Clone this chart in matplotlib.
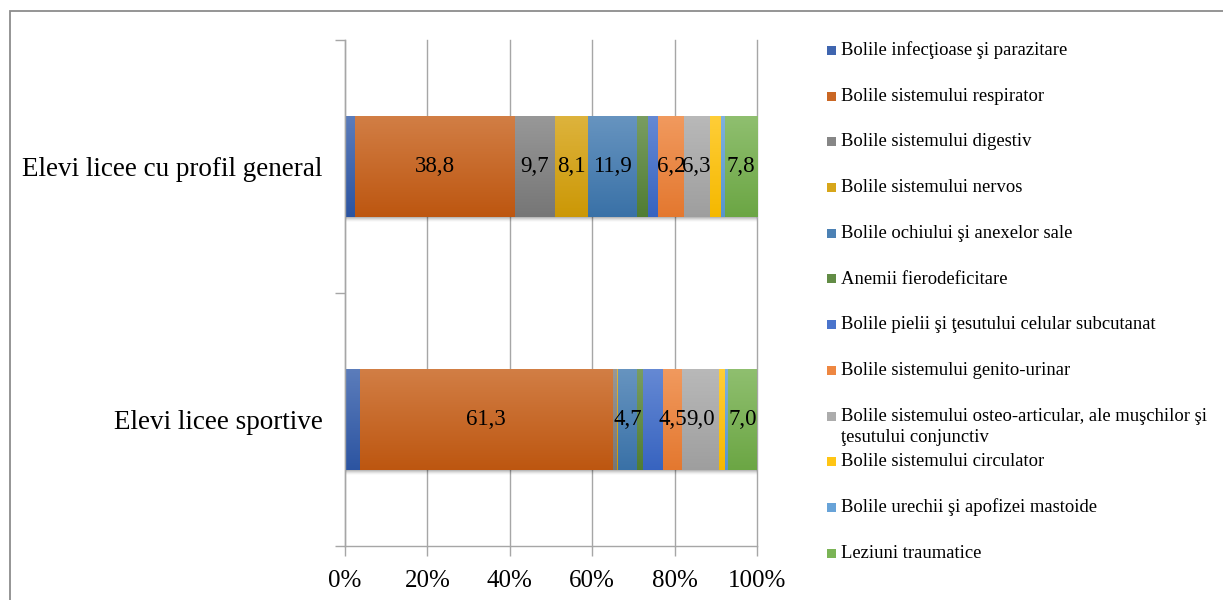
import numpy as np
import matplotlib
matplotlib.use("Agg")
import matplotlib.pyplot as plt
from matplotlib.patches import Rectangle
from matplotlib.colors import to_rgb
from matplotlib.ticker import FixedLocator, FuncFormatter

plt.rcParams['font.family'] = ['Liberation Serif', 'DejaVu Serif']

# Categories (bottom to top on the axis)
groups = ["Elevi licee sportive", "Elevi licee cu profil general"]

# Disease classes, in stacking order
classes = [
    "Bolile infecţioase şi parazitare",
    "Bolile sistemului respirator",
    "Bolile sistemului digestiv",
    "Bolile sistemului nervos",
    "Bolile ochiului şi anexelor sale",
    "Anemii fierodeficitare",
    "Bolile pielii şi ţesutului celular subcutanat",
    "Bolile sistemului genito-urinar",
    "Bolile sistemului osteo-articular, ale muşchilor şi\nţesutului conjunctiv",
    "Bolile sistemului circulator",
    "Bolile urechii şi apofizei mastoide",
    "Leziuni traumatice",
]

# Shares (%) per class: [sportive, general]
infectioase   = [3.6, 2.4]
respirator    = [61.3, 38.8]
digestiv      = [1.0, 9.7]
nervos        = [0.3, 8.1]
ochi          = [4.7, 11.9]
anemii        = [1.4, 2.6]
piele         = [4.9, 2.5]
genito        = [4.5, 6.2]
osteo         = [9.0, 6.3]
circulator    = [1.5, 2.7]
urechi        = [0.7, 1.0]
traumatice    = [7.0, 7.8]

series = [infectioase, respirator, digestiv, nervos, ochi, anemii,
          piele, genito, osteo, circulator, urechi, traumatice]

# Classes whose values are printed on the bars
labelled = {1, 2, 3, 4, 7, 8, 11}

colors = ["#2E58A8", "#C55A11", "#7B7B7B", "#D49E06", "#3C76AE", "#548235",
          "#3A68C8", "#ED7D31", "#A5A5A5", "#FFC000", "#5B9BD5", "#70AD47"]

W, H = 1223, 600
fig = plt.figure(figsize=(W / 100, H / 100), dpi=100)
ax = fig.add_axes([345 / W, 1 - 546 / H, (757 - 345) / W, (546 - 40) / H])

data = np.array(series, dtype=float)
totals = data.sum(axis=0)
pct = data / totals * 100
y = np.arange(len(groups))
bar_h = 0.40

# soft drop shadow under each full bar
px = 2.0 / 506
for k, a in zip(range(1, 6), [0.10, 0.08, 0.06, 0.04, 0.02]):
    ax.barh(y - k * px, 100 + k * 0.12, left=0, height=bar_h, color='black',
            alpha=a, linewidth=0, zorder=2)


def shade(c, f):
    r = np.array(to_rgb(c))
    return r + (1 - r) * f if f > 0 else r * (1 + f)


left = np.zeros(len(groups))
for i, vals in enumerate(pct):
    bars = ax.barh(y, vals, left=left, height=bar_h, color=colors[i],
                   linewidth=0, zorder=3)
    top_c = shade(colors[i], 0.22)
    bot_c = shade(colors[i], -0.04)
    t = np.linspace(0, 1, 64)[:, None]
    grad = (top_c[None, :] * (1 - t) + bot_c[None, :] * t)[:, None, :]
    for p in bars.patches:
        x0, y0, w, h = p.get_x(), p.get_y(), p.get_width(), p.get_height()
        im = ax.imshow(grad, extent=[x0, x0 + w, y0, y0 + h], origin='upper',
                       aspect='auto', interpolation='bilinear', zorder=3.5)
        im.set_clip_path(p)
    if i in labelled:
        for j, (l, v, raw) in enumerate(zip(left, vals, data[i])):
            if raw >= 4:
                ax.text(l + v / 2, y[j], f"{raw:.1f}".replace('.', ','),
                        ha='center', va='center', fontsize=16.5, color='black',
                        zorder=5)
    left += vals

ax.set_xlim(0, 100)
ax.set_ylim(-0.5, len(groups) - 0.5)

grid_c = '#A6A6A6'
ax.set_xticks(np.arange(0, 101, 20))
ax.xaxis.set_major_formatter(FuncFormatter(lambda v, _: f"{v:.0f}%"))
ax.tick_params(axis='x', length=7, width=1, color=grid_c, labelsize=18,
               pad=10)
ax.grid(axis='x', color=grid_c, linewidth=1, zorder=0)
ax.set_axisbelow(True)
for gl in ax.get_xgridlines():
    gl.set_clip_on(False)

ax.yaxis.set_major_locator(FixedLocator([-0.5, 0.5, 1.5]))
ax.yaxis.set_major_formatter(FuncFormatter(lambda v, _: ""))
ax.yaxis.set_minor_locator(FixedLocator(y))
ax.set_yticklabels(groups, minor=True)
ax.tick_params(axis='y', which='major', length=7, width=1, color=grid_c)
ax.tick_params(axis='y', which='minor', length=0, labelsize=19.5, pad=16)

for s in ['top', 'right']:
    ax.spines[s].set_visible(False)
for s in ['left', 'bottom']:
    ax.spines[s].set_color(grid_c)
    ax.spines[s].set_linewidth(1)
    ax.spines[s].set_zorder(6)

# legend, one entry per row
leg_y = [50.5, 96.2, 141.9, 187.6, 233.3, 279.0,
         324.7, 370.4, 416.1, 461.8, 507.5, 553.2]
for i, (name, yy) in enumerate(zip(classes, leg_y)):
    fig.add_artist(Rectangle((827 / W, 1 - (yy + 4.5) / H), 9 / W, 9 / H,
                             transform=fig.transFigure,
                             facecolor=shade(colors[i], 0.08), linewidth=0))
    lines = name.split("\n")
    for k, ln in enumerate(lines):
        fig.text(841 / W, 1 - (yy + k * 21.5) / H, ln, ha='left', va='center',
                 fontsize=13.4, color='black')

# outer frame
fig.add_artist(Rectangle((9.5 / W, -0.1), 1.2, 1.1 - 10.5 / H,
                         transform=fig.transFigure, fill=False,
                         edgecolor='#8C8C8C', linewidth=1.3))

fig.savefig("out.png", dpi=100, facecolor='white')
